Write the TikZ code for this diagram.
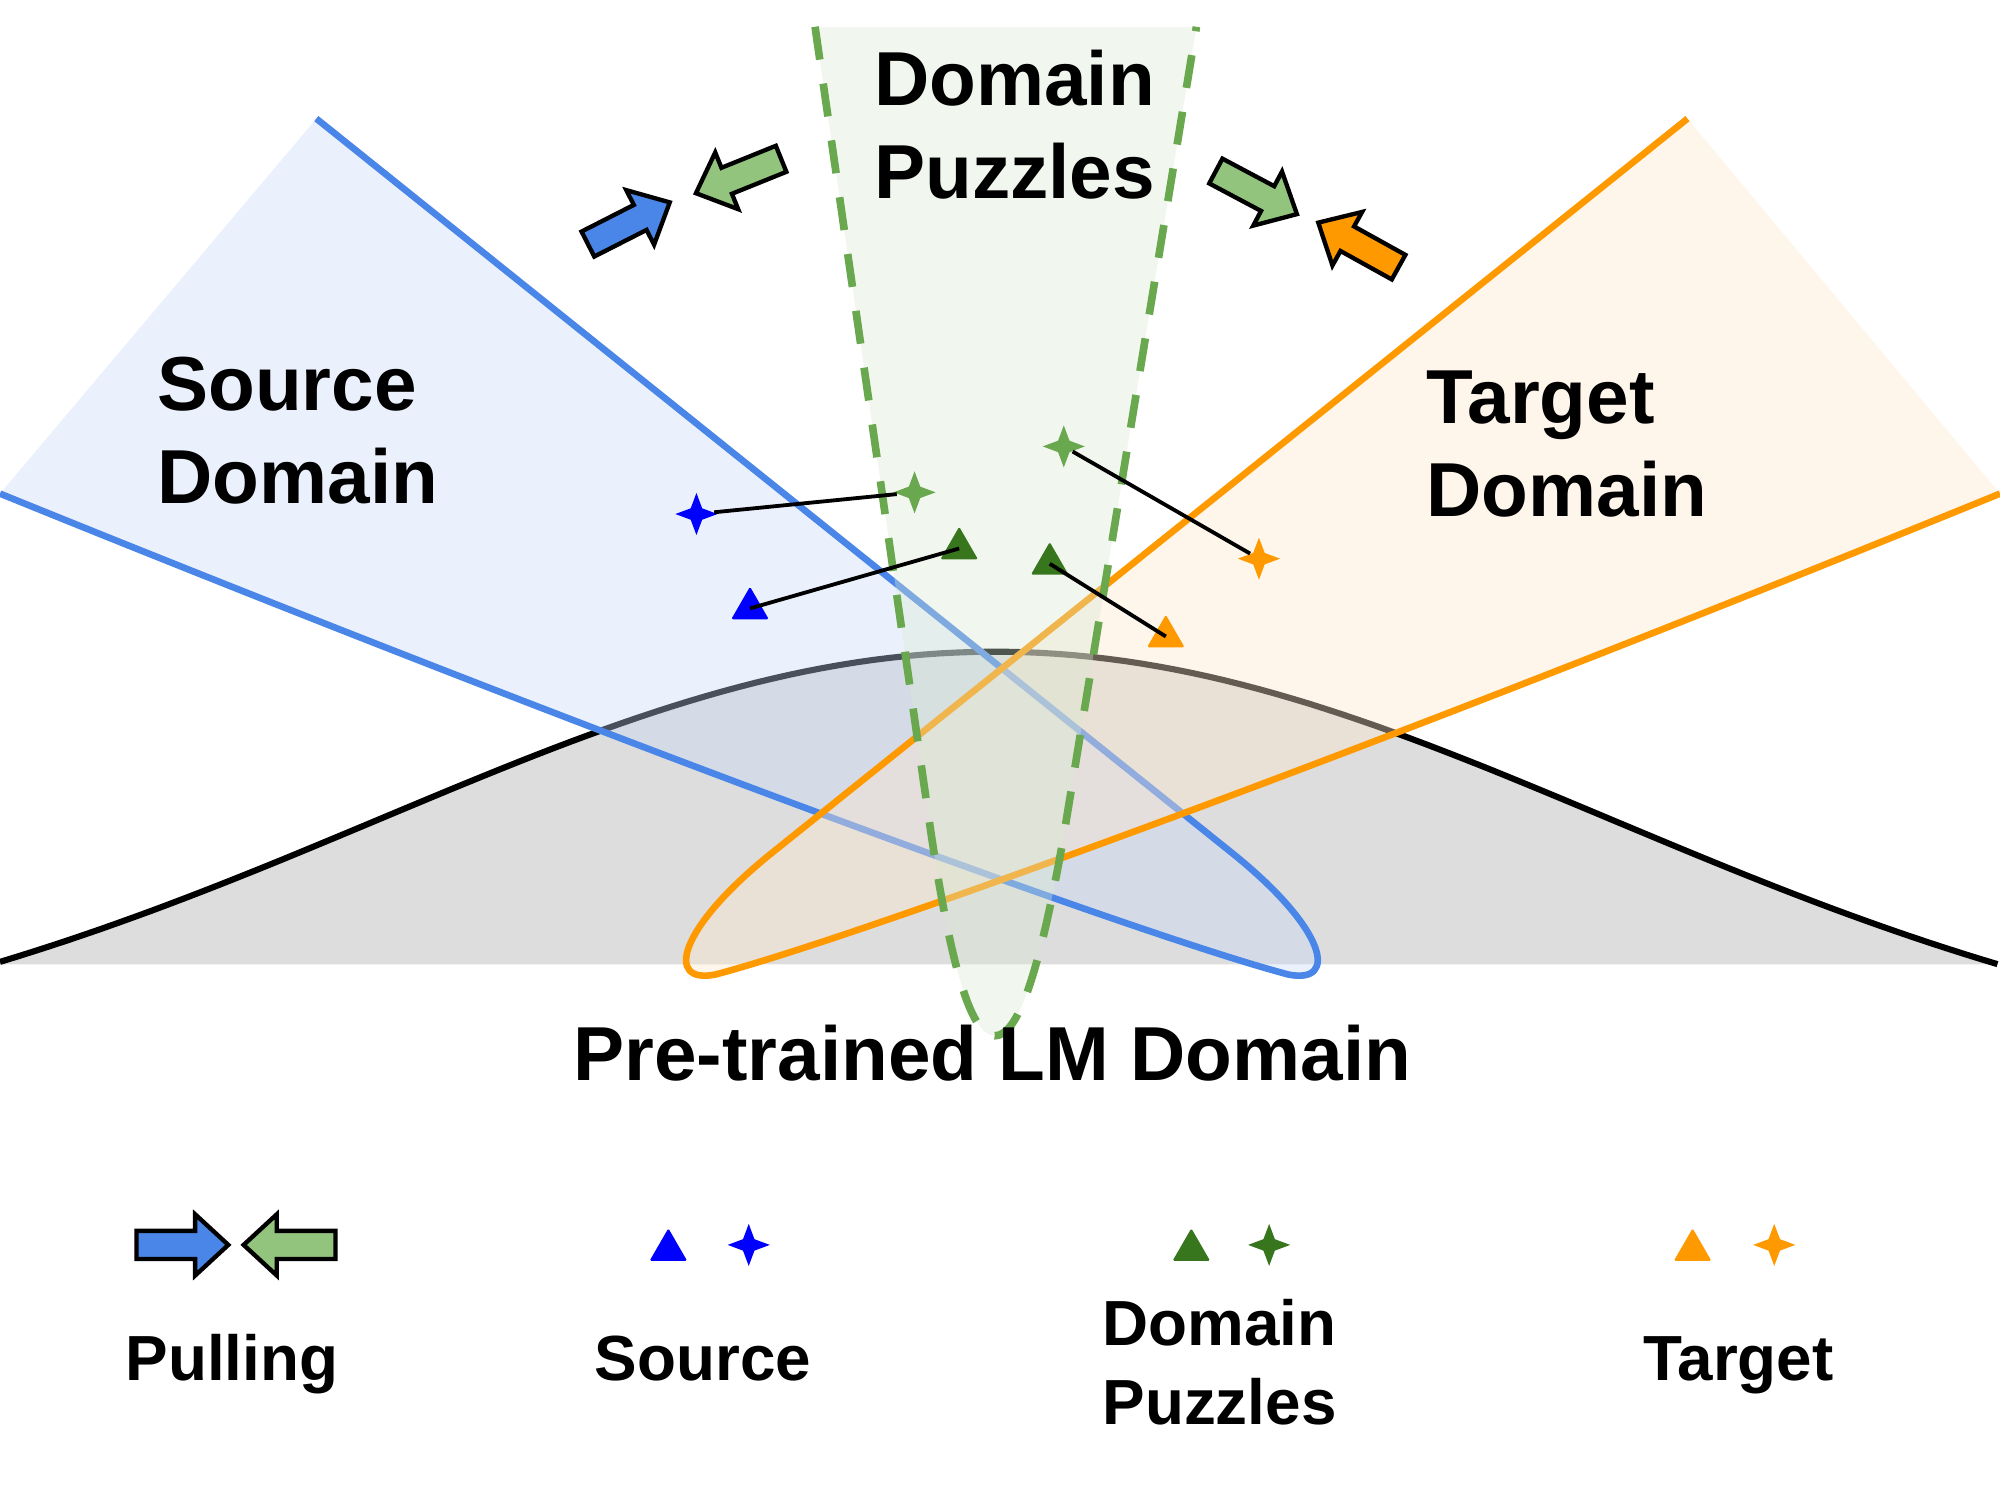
\documentclass[tikz,border=0pt]{standalone}
\usepackage{fontspec}
\setmainfont{Liberation Sans}
\usetikzlibrary{shapes.geometric}

\definecolor{srcblue}{HTML}{4A86E8}
\definecolor{srcfill}{HTML}{C9DAF8}
\definecolor{srcmark}{HTML}{0000FF}
\definecolor{tgtorange}{HTML}{FF9900}
\definecolor{tgtfill}{HTML}{FCE5CD}
\definecolor{dpgreen}{HTML}{6AA84F}
\definecolor{dpfill}{HTML}{D9EAD3}
\definecolor{dpdark}{HTML}{38761D}
\definecolor{pullgreen}{HTML}{93C47D}
\definecolor{lmgray}{HTML}{DDDDDD}

\tikzset{
  bigtext/.style={inner sep=0pt, font=\fontsize{30}{36.5}\selectfont\bfseries, align=left},
  legtext/.style={inner sep=0pt, font=\fontsize{25}{31}\selectfont\bfseries, align=left},
  tri/.style={regular polygon, regular polygon sides=3, inner sep=0pt, minimum size=17pt, rounded corners=0.6pt, fill=#1},
  sparkle/.style={star, star points=4, star point ratio=2.6, inner sep=0pt, minimum size=16.5pt, fill=#1},
  link/.style={line width=1.5pt},
  pics/pullarrow/.style={code={\draw[line width=1.7pt, fill=#1] (-36,-11) -- (10,-11) -- (10,-24) -- (36,0) -- (10,24) -- (10,11) -- (-36,11) -- cycle;}}
}

\begin{document}
\begin{tikzpicture}[x=0.5pt,y=0.5pt,yscale=-1,xscale=1]
\useasboundingbox (0,0) rectangle (1568,1176);

%Shape: Curve [pre-trained LM]
\fill[lmgray] plot[domain=0:1566,samples=120] (\x,{844-333*exp(-0.5*((\x-780)/482)*((\x-780)/482))}) -- (1566,756) -- (0,756) -- cycle;
\draw[line width=2.4pt] plot[domain=0:1566,samples=120] (\x,{844-333*exp(-0.5*((\x-780)/482)*((\x-780)/482))});

%Shape: Source domain
\fill[srcfill, fill opacity=0.37] (248,93) -- (965,668) .. controls (1040,728) and (1050,772) .. (1010,764) .. controls (900,735) and (500,590) .. (0,387) -- cycle;
\draw[srcblue, line width=2.6pt] (248,93) -- (965,668) .. controls (1040,728) and (1050,772) .. (1010,764) .. controls (900,735) and (500,590) .. (0,387);

%Shape: Target domain
\fill[tgtfill, fill opacity=0.4] (1323,93) -- (606,668) .. controls (531,728) and (521,772) .. (561,764) .. controls (671,735) and (1071,590) .. (1568,387) -- cycle;
\draw[tgtorange, line width=2.6pt] (1323,93) -- (606,668) .. controls (531,728) and (521,772) .. (561,764) .. controls (671,735) and (1071,590) .. (1568,387);

%Shape: Domain puzzles cone
\fill[dpfill, fill opacity=0.37] (639,21) -- (728,640) .. controls (748,780) and (765,812) .. (780,812) .. controls (795,812) and (812,780) .. (834,655) -- (938,21) -- cycle;
\draw[dpgreen, line width=3pt, dash pattern=on 13pt off 9.5pt] (639,21) -- (728,640) .. controls (748,780) and (765,812) .. (780,812) .. controls (795,812) and (812,780) .. (834,655) -- (938,21);

% Samples
\node[sparkle=srcmark] (bs) at (546,403) {};
\node[sparkle=dpgreen] (gs1) at (717,386) {};
\node[tri=srcmark] (bt) at (588,477) {};
\node[tri=dpdark] (gt1) at (752,430) {};
\node[sparkle=dpgreen] (gs2) at (834,350) {};
\node[tri=dpdark] (gt2) at (823,442) {};
\node[sparkle=tgtorange] (os) at (987,438) {};
\node[tri=tgtorange] (ot) at (914,499) {};
\draw[link] (bs) -- (gs1);
\draw[link] (bt.center) -- (gt1.center);
\draw[link] (gs2) -- (os);
\draw[link] (gt2.center) -- (ot.center);

% Pulling arrows
\pic[rotate=27] at (493,175) {pullarrow=srcblue};
\pic[rotate=-158] at (579,138) {pullarrow=pullgreen};
\pic[rotate=-28] at (985,151) {pullarrow=pullgreen};
\pic[rotate=151] at (1065,192) {pullarrow=tgtorange};

% Text Node
\node[bigtext, anchor=base west] (dplabel) at (685,156) {Domain\\Puzzles};
% Text Node
\node[bigtext, anchor=base west] (srclabel) at (123,395) {Source\\Domain};
% Text Node
\node[bigtext, anchor=base west] (tgtlabel) at (1118,405) {Target\\Domain};
% Text Node
\node[bigtext, anchor=base] (lmlabel) at (778,847) {Pre-trained LM Domain};

% Legend
\pic at (143,976) {pullarrow=srcblue};
\pic[rotate=180] at (227,976) {pullarrow=pullgreen};
\node[tri=srcmark] (legbt) at (524,980) {};
\node[sparkle=srcmark] (legbs) at (587,976) {};
\node[tri=dpdark] (leggt) at (934,980) {};
\node[sparkle=dpdark] (leggs) at (995,976) {};
\node[tri=tgtorange] (legot) at (1327,980) {};
\node[sparkle=tgtorange] (legos) at (1391,976) {};
% Text Node
\node[legtext, anchor=base west] (legpull) at (98,1082) {Pulling};
% Text Node
\node[legtext, anchor=base west] (legsrc) at (466,1082) {Source};
% Text Node
\node[legtext, anchor=base west] (legdp) at (864,1117) {Domain\\Puzzles};
% Text Node
\node[legtext, anchor=base west] (legtgt) at (1288,1082) {Target};
\end{tikzpicture}
\end{document}
